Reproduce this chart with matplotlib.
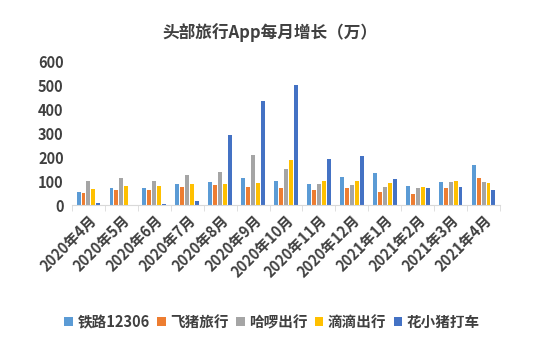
import matplotlib.pyplot as plt
import numpy as np

plt.rcParams['font.family'] = ['Noto Sans CJK SC', 'DejaVu Sans']

months = ["2020年4月", "2020年5月", "2020年6月", "2020年7月", "2020年8月",
          "2020年9月", "2020年10月", "2020年11月", "2020年12月", "2021年1月",
          "2021年2月", "2021年3月", "2021年4月"]
series_names = ["铁路12306", "飞猪旅行", "哈啰出行", "滴滴出行", "花小猪打车"]
railway = [56, 69, 69, 88, 95, 111, 100, 88, 115, 132, 80, 95, 165]
fliggy = [49, 63, 64, 76, 83, 77, 71, 63, 69, 56, 45, 69, 112]
hello = [101, 111, 100, 123, 139, 209, 151, 88, 83, 77, 71, 95, 95]
didi = [67, 80, 80, 88, 88, 91, 188, 100, 100, 91, 77, 101, 92]
huaxiaozhu = [7, 0, 5, 18, 291, 434, 502, 191, 206, 108, 69, 77, 63]
colors = ["#5B9BD5", "#ED7D31", "#A5A5A5", "#FFC000", "#4472C4"]

data = [railway, fliggy, hello, didi, huaxiaozhu]

fig = plt.figure(figsize=(5.43, 3.52), dpi=100)
ax = fig.add_axes([72 / 543, 1 - 205 / 352, 428 / 543, 144 / 352])

x = np.arange(len(months))
slot = 0.15
for i, (name, vals, c) in enumerate(zip(series_names, data, colors)):
    ax.bar(x + (i - 2) * slot, vals, width=0.12, color=c, label=name)

ax.set_xlim(-0.5, len(months) - 0.5)
ax.set_ylim(0, 600)
ax.set_yticks(range(0, 601, 100))
ax.tick_params(axis="y", length=0, labelsize=10.5, labelcolor="#404040", pad=6)
for lab in ax.get_yticklabels():
    lab.set_fontweight("bold")

ax.set_xticks(x)
ax.set_xticklabels(months, rotation=45, ha="right", rotation_mode="anchor",
                   fontsize=10.5, fontweight="bold", color="#404040")
ax.set_xticks(np.arange(-0.5, len(months)), minor=True)
ax.tick_params(axis="x", which="major", length=0, pad=5)
ax.tick_params(axis="x", which="minor", length=4, color="#D9D9D9")

for s in ["top", "right", "left"]:
    ax.spines[s].set_visible(False)
ax.spines["bottom"].set_color("#D9D9D9")

fig.text(270 / 543, 1 - 33 / 352, "头部旅行App每月增长（万）", ha="center", va="center",
         fontsize=12, fontweight="bold", color="#404040")

fig.legend(loc="center", bbox_to_anchor=(272 / 543, 1 - 322 / 352), ncol=5,
           frameon=False, handlelength=0.6, handleheight=0.6, handletextpad=0.3,
           columnspacing=0.5, prop={"size": 10.5, "weight": "bold"},
           labelcolor="#404040")

fig.savefig("out.png", dpi=100)
